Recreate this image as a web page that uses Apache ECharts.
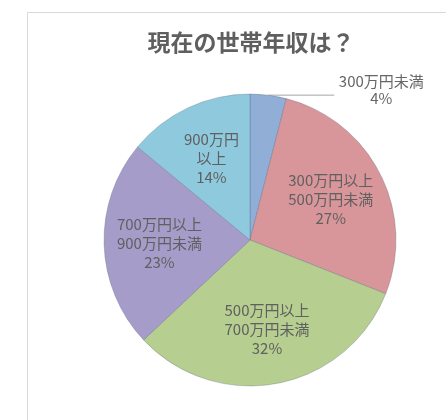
<!DOCTYPE html>
<html><head><meta charset="utf-8">
<script src="https://cdn.jsdelivr.net/npm/echarts@6/dist/echarts.min.js"></script>
<style>html,body{margin:0;padding:0;background:#fff}#c{width:446px;height:420px}</style>
</head><body><div id="c"></div>
<script>
const title = '現在の世帯年収は？';
const categories = ['300万円未満', '300万円以上\n500万円未満', '500万円以上\n700万円未満', '700万円以上\n900万円未満', '900万円\n以上'];
const values = [4, 27, 32, 23, 14];
const colors = ['#90aed6', '#d9969a', '#b6ce90', '#a69cc9', '#8fc9dd'];

const outsideIdx = 0;
const FONT = '"Noto Sans CJK JP", "Noto Sans", sans-serif';
const center = [250, 240];
const R = 146;

const pieData = categories.map((c, i) => ({
  name: c, value: values[i],
  itemStyle: { color: colors[i] },
  label: i === outsideIdx ? {
    show: true, position: 'outside', padding: [0, 0, 10, 0],
    formatter: p => p.name.split('\n').map(s => '{a|' + s + '}').join('\n') + '\n{a|' + p.value + '%}',
    rich: { a: { width: 90, align: 'center', fontSize: 15, lineHeight: 17, color: '#666', fontFamily: FONT } }
  } : { show: false },
  labelLine: i === outsideIdx ? { show: true, length: 0, length2: 66, lineStyle: { color: '#a6a6a6', width: 1 } } : { show: false }
}));

const labelData = categories.map((c, i) => ({
  name: c, value: values[i],
  label: { show: i !== outsideIdx }
}));

const chart = echarts.init(document.getElementById('c'), null, { renderer: 'canvas' });
chart.setOption({
  backgroundColor: '#fff',
  animation: false,
  title: {
    text: title, left: 246, top: 26, textAlign: 'center',
    textStyle: { fontSize: 23, fontWeight: 'bold', color: '#5f5f5f', fontFamily: FONT }
  },
  graphic: [{
    type: 'rect', shape: { x: 27.5, y: 12.5, width: 440, height: 430 },
    style: { fill: 'none', stroke: '#d9d9d9', lineWidth: 1 }, silent: true, z: -10
  }],
  series: [{
    type: 'pie', center: center, radius: [0, R], startAngle: 90, clockwise: true,
    avoidLabelOverlap: false,
    itemStyle: { borderColor: 'rgba(80,95,120,0.3)', borderWidth: 1 },
    label: { distanceToLabelLine: 2 },
    emphasis: { disabled: true },
    data: pieData
  }, {
    type: 'pie', center: center, radius: [R * 0.2, R], startAngle: 90, clockwise: true,
    avoidLabelOverlap: false, silent: true,
    itemStyle: { color: 'rgba(0,0,0,0)' },
    label: {
      position: 'inside',
      formatter: p => p.name + '\n' + p.value + '%',
      fontSize: 15, lineHeight: 19, color: '#606060', fontFamily: FONT
    },
    labelLine: { show: false },
    emphasis: { disabled: true },
    data: labelData
  }]
});
</script></body></html>
